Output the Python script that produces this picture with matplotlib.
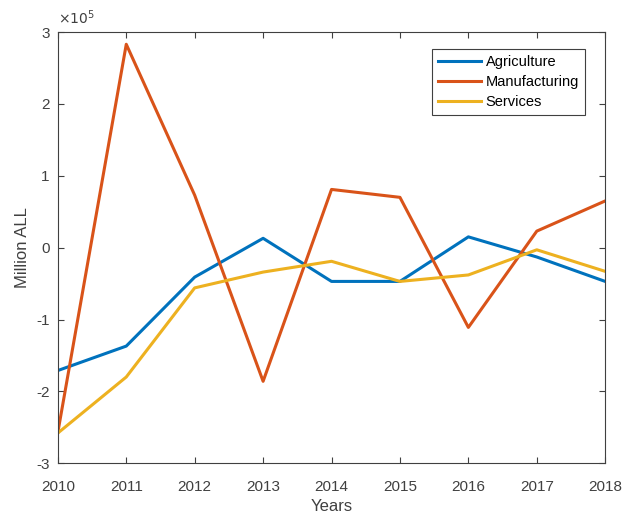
import numpy as np
import matplotlib
matplotlib.use("Agg")
import matplotlib.pyplot as plt
from matplotlib.ticker import FuncFormatter

plt.rcParams['font.family'] = ['Liberation Sans', 'DejaVu Sans']

years = [2010, 2011, 2012, 2013, 2014, 2015, 2016, 2017, 2018]
agriculture = np.array([-1.71, -1.37, -0.41, 0.13, -0.47, -0.47, 0.15, -0.13, -0.47]) * 1e5
manufacturing = np.array([-2.57, 2.83, 0.73, -1.86, 0.81, 0.70, -1.11, 0.23, 0.65]) * 1e5
services = np.array([-2.58, -1.80, -0.56, -0.34, -0.19, -0.47, -0.38, -0.03, -0.33]) * 1e5

fig = plt.figure(figsize=(6.22, 5.17), dpi=100)
ax = fig.add_axes([0.093, 0.104, 0.880, 0.834])

ax.plot(years, agriculture, color=(0, 0.447, 0.741), lw=2.2, label='Agriculture')
ax.plot(years, manufacturing, color=(0.85, 0.325, 0.098), lw=2.2, label='Manufacturing')
ax.plot(years, services, color=(0.929, 0.694, 0.125), lw=2.2, label='Services')

ax.set_xlim(2010, 2018)
ax.set_ylim(-3e5, 3e5)
ax.set_xticks(years)
ax.set_yticks(np.arange(-3, 4) * 1e5)
ax.yaxis.set_major_formatter(FuncFormatter(lambda v, p: '%g' % (v / 1e5)))
ax.text(0.0, 1.012, r'$\times10^{5}$', transform=ax.transAxes, fontsize=10,
        color='#404040', ha='left', va='bottom')

ax.tick_params(direction='in', top=True, right=True, labelsize=11, colors='#404040', length=4)
ax.tick_params(axis='x', pad=12)
ax.tick_params(axis='y', pad=6)
for s in ax.spines.values():
    s.set_color('#404040')
    s.set_linewidth(0.8)

ax.set_xlabel('Years', fontsize=12, color='#404040', labelpad=4)
ax.set_ylabel('Million ALL', fontsize=12, color='#404040', labelpad=4)

leg = ax.legend(loc='upper right', bbox_to_anchor=(0.963, 0.96), borderaxespad=0, fontsize=10.5,
                fancybox=False, edgecolor='#404040', framealpha=1,
                handlelength=3, borderpad=0.4, labelspacing=0.4, handletextpad=0.3)
leg.get_frame().set_linewidth(0.8)

fig.savefig('out.png', dpi=100)
